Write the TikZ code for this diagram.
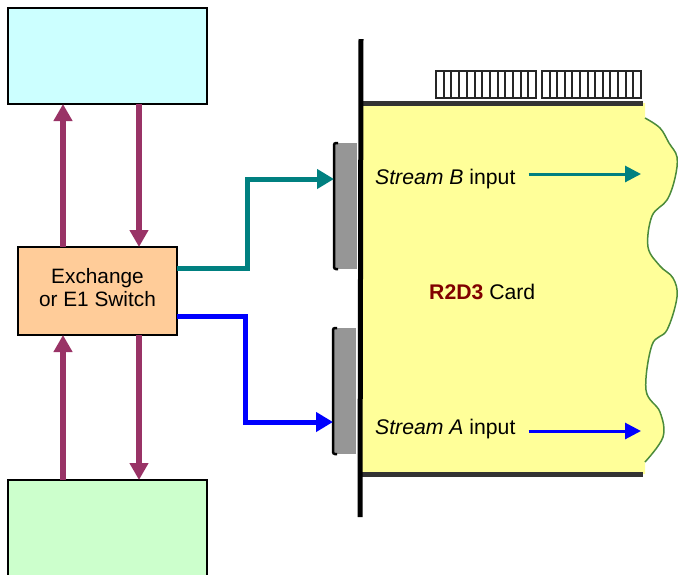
\documentclass[tikz,border=0pt]{standalone}
\usepackage{fontspec}
\setmainfont{Liberation Sans}
\usepackage{xcolor}
\usetikzlibrary{arrows.meta,positioning,calc}

\definecolor{trunkpurple}{HTML}{993366}
\definecolor{streamteal}{HTML}{008080}
\definecolor{streamblue}{HTML}{0000FF}
\definecolor{cardyellow}{HTML}{FFFF99}
\definecolor{edgegreen}{HTML}{4B8B3B}
\definecolor{bardark}{HTML}{333333}
\definecolor{uppercyan}{HTML}{CCFFFF}
\definecolor{lowergreen}{HTML}{CCFFCC}
\definecolor{switchorange}{HTML}{FFCC99}
\definecolor{namered}{HTML}{800000}

\begin{document}
\begin{tikzpicture}[
        x=1pt, y=-1pt,
        box/.style={rectangle, draw=black, line width=2pt, inner sep=0pt, outer sep=0pt, align=center, font=\fontsize{20.8}{23}\selectfont},
        portbox/.style={rectangle, fill=black!41, inner sep=0pt, outer sep=0pt, minimum width=23pt, minimum height=126pt},
        bracket/.style={line width=2.5pt, rounded corners=2pt},
        pins/.style={draw=black!85, line width=2pt},
        label/.style={inner sep=0pt, anchor=west, font=\fontsize{21.2}{24}\selectfont},
        trunk/.style={-{Triangle[length=17pt,width=18pt]}, line width=6pt, draw=trunkpurple},
        feed/.style={-{Triangle[length=17pt,width=19pt]}, line width=5pt},
        flow/.style={-{Triangle[length=16pt,width=16pt]}, line width=3pt}
    ]
        \path[use as bounding box, clip] (0,0) rectangle (678,574);

        % Card
        \fill[cardyellow] (362,103) -- (645,103) -- (645,118) -- plot[smooth, tension=0.6] coordinates {(645,118) (660,128) (669,143) (677,157) (675,178) (667,200) (652,216) (648,247) (660,266) (673,278) (677,297) (667,330) (652,345) (646,390) (660,412) (663,437) (645,462)} -- (645,474) -- (362,474) -- cycle;
        \draw[edgegreen, line width=1.5pt] plot[smooth, tension=0.6] coordinates {(645,118) (660,128) (669,143) (677,157) (675,178) (667,200) (652,216) (648,247) (660,266) (673,278) (677,297) (667,330) (652,345) (646,390) (660,412) (663,437) (645,462)};
        \draw[bardark, line width=5pt] (362,103) -- (643,103);
        \draw[bardark, line width=5pt] (362,474) -- (643,474);

        % Edge connector pins
        \draw[pins] (436,71) rectangle (536,98);
        \draw[pins] (542,71) rectangle (641,98);
        \foreach \i in {1,...,12} {
            \draw[pins] ({436+\i*7.7},71) -- ({436+\i*7.7},98);
            \draw[pins] ({542+\i*7.6},71) -- ({542+\i*7.6},98);
        }

        % Nodes
        \node[box, fill=uppercyan, minimum width=199pt, minimum height=96pt] (upper) at (107.5,56) {};
        \node[box, fill=lowergreen, minimum width=199pt, minimum height=120pt] (lower) at (107.5,540) {};
        \node[box, fill=switchorange, minimum width=159pt, minimum height=88pt] (switch) at (97.5,291) {Exchange\\or E1 Switch\\[-15pt]\mbox{}};
        \node[portbox] (portB) at (345.5,206) {};
        \node[portbox] (portA) at (344.5,391) {};
        \node[label] (streamB) at (375,179) {\textit{Stream B} input};
        \node[label] (streamA) at (375,429) {\textit{Stream A} input};
        \node[label] (cardname) at (429,292) {\textcolor{namered}{\textbf{R2D3}} Card};
        \coordinate (endB) at (641,174);
        \coordinate (endA) at (641,431);

        % Port brackets and panel
        \draw[bracket] ([xshift=4pt]portB.north west) -- (portB.north west) -- (portB.south west) -- ([xshift=4pt]portB.south west);
        \draw[bracket] ([xshift=4pt]portA.north west) -- (portA.north west) -- (portA.south west) -- ([xshift=4pt]portA.south west);
        \draw[line width=5pt] (361,39) -- (360,517);

        % Edges
        \draw[trunk] ([xshift=-34.5pt]switch.north) -- ([xshift=-44.5pt]upper.south);
        \draw[trunk] ([xshift=31.5pt]upper.south) -- ([xshift=41.5pt]switch.north);
        \draw[trunk] ([xshift=-44.5pt]lower.north) -- ([xshift=-34.5pt]switch.south);
        \draw[trunk] ([xshift=41.5pt]switch.south) -- ([xshift=31.5pt]lower.north);
        \draw[feed, draw=streamteal] ([yshift=22.5pt]switch.east) -| (247,179) -- ([yshift=27pt]portB.west);
        \draw[feed, draw=streamblue] ([yshift=-25pt]switch.east) -| (245,422) -- ([yshift=-31pt]portA.west);
        \draw[flow, draw=streamteal] ([shift={(13pt,5pt)}]streamB.east) -- (endB);
        \draw[flow, draw=streamblue] ([shift={(13pt,-2pt)}]streamA.east) -- (endA);
    \end{tikzpicture}
\end{document}
